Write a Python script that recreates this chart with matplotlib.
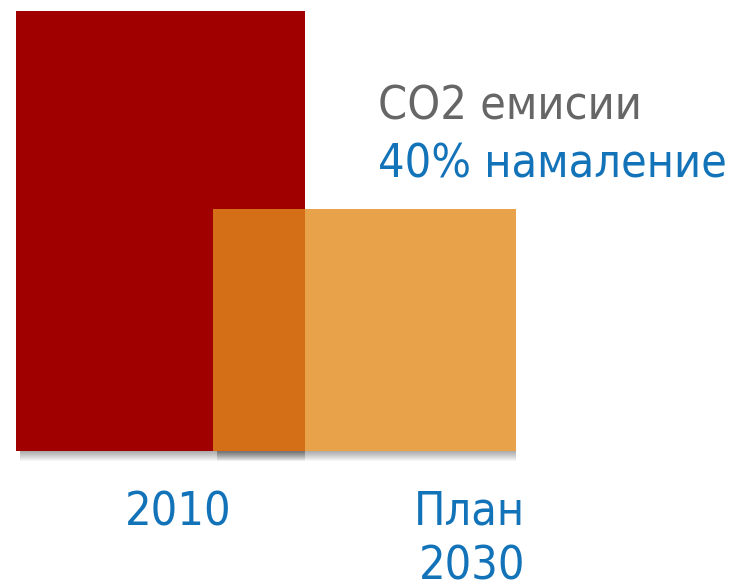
import matplotlib.pyplot as plt

# CO2 emissions: 2010 baseline vs 2030 plan (relative units)
years = ['2010', 'План\n2030']
emissions = [100, 55]
bar_pos = [0.0, 1.0]
bar_width = [1.417, 1.485]
bar_colors = ['#A00000', (226 / 255, 139 / 255, 29 / 255)]
bar_alpha = [1.0, 0.8]

GREY = '#666666'
BLUE = '#1373B9'
FONT = dict(family='DejaVu Sans', fontstretch='condensed')

fig = plt.figure(figsize=(7.41, 5.87), dpi=100)
ax = fig.add_axes([0, 0, 1, 1])
ax.set_xlim(-0.787, 2.846)
ax.set_ylim(-30.9, 102.5)
ax.axis('off')

# soft drop shadow under each bar (stacked translucent strips)
for x, w in zip(bar_pos, bar_width):
    for k in range(10):
        ax.bar(x + 0.01, -0.22 * (k + 1), width=w * 0.985, bottom=0,
               color='black', alpha=0.035, linewidth=0, zorder=1)

for x, h, w, c, a in zip(bar_pos, emissions, bar_width, bar_colors, bar_alpha):
    ax.bar(x, h, width=w, color=c, alpha=a, linewidth=0, zorder=2)

# category labels under the bars
ax.text(0.088, -16.9, '2010', color=BLUE, fontsize=33.5, ha='center', va='baseline', **FONT)
ax.text(1.515, -16.6, 'План', color=BLUE, fontsize=33.5, ha='center', va='baseline', **FONT)
ax.text(1.53, -29.1, '2030', color=BLUE, fontsize=33.5, ha='center', va='baseline', **FONT)

# headline next to the bars
ax.text(1.066, 75.4, 'CO2 емисии', color=GREY, fontsize=33.5, ha='left', va='baseline', **FONT)
ax.text(1.066, 62.2, '40% намаление', color=BLUE, fontsize=33.5, ha='left', va='baseline', **FONT)

fig.savefig('out.png', dpi=100)
